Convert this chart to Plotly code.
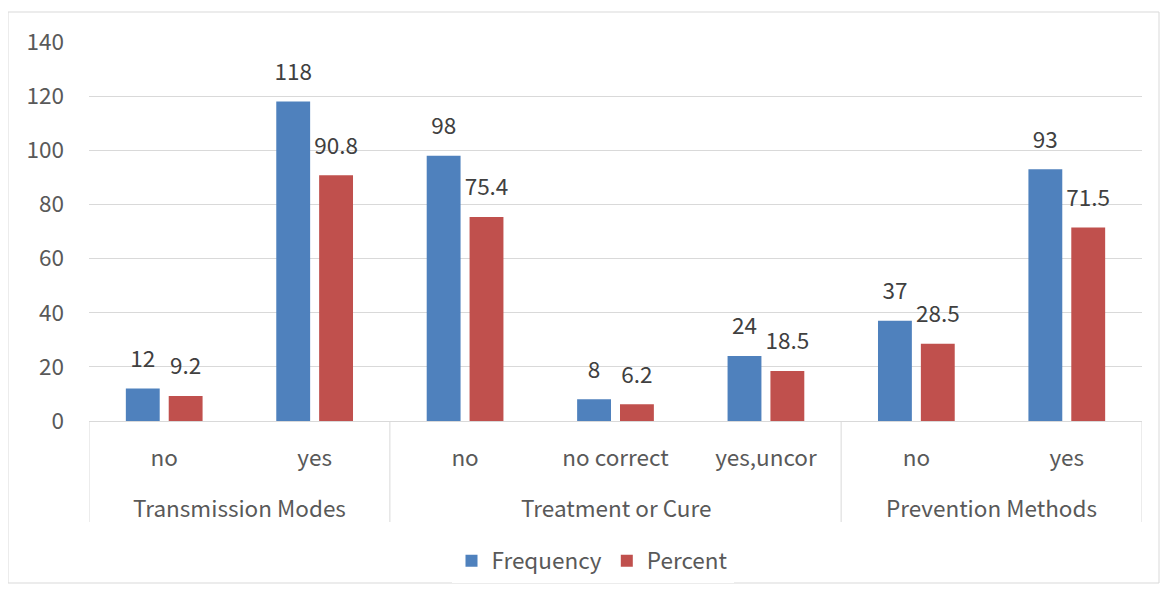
import plotly.graph_objects as go

groups = ["Transmission Modes", "Transmission Modes",
          "Treatment or Cure", "Treatment or Cure", "Treatment or Cure",
          "Prevention Methods", "Prevention Methods"]
answers = ["no", "yes", "no", "no correct", "yes,uncor", "no", "yes"]
frequency = [12, 118, 98, 8, 24, 37, 93]
percent = [9.2, 90.8, 75.4, 6.2, 18.5, 28.5, 71.5]
y_ticks = [0, 20, 40, 60, 80, 100, 120, 140]

FONT = "Noto Sans CJK KR, Malgun Gothic, sans-serif"
GREY = "#595959"
LINE = "#d9d9d9"
FS = 22.5
GAP = 0.43
# the page body has an 8px margin, so the figure is laid out 8px in
OFF = 8
W, H = 1152, 576
L, T = 89 - OFF, 42 - OFF
R = OFF + W - 1142
B = OFF + H - 421
pw, ph = W - L - R, H - T - B

# unique category keys, shown as the answer text
keys = [g + " | " + a for g, a in zip(groups, answers)]

series = [("Frequency", frequency, "#4f81bd"), ("Percent", percent, "#c0504d")]

fig = go.Figure()
for name, vals, col in series:
    fig.add_trace(go.Bar(
        x=keys, y=vals, name=name,
        marker=dict(color=col, line=dict(width=0)),
    ))
# value labels: invisible markers in grouped scatter mode so the text sits
# above each bar with an Excel-like gap
for name, vals, col in series:
    fig.add_trace(go.Scatter(
        x=keys, y=vals, mode="markers+text", text=vals,
        textposition="top center", showlegend=False, hoverinfo="skip",
        marker=dict(size=24, opacity=0), cliponaxis=False,
        textfont=dict(family=FONT, size=FS, color="#404040"),
    ))

# outer category row: group names and dividers
def px_below(px):
    return -(px - (T + OFF + ph)) / ph

starts = [i for i, g in enumerate(groups) if i == 0 or groups[i - 1] != g]
bounds = starts + [len(groups)]
for a, b in zip(bounds[:-1], bounds[1:]):
    fig.add_annotation(x=(a + b - 1) / 2, xref="x", y=px_below(507), yref="paper",
                       text=groups[a], showarrow=False, yanchor="middle",
                       font=dict(family=FONT, size=FS, color=GREY))
for b in bounds:
    fig.add_shape(type="line", xref="x", yref="paper", x0=b - 0.5, x1=b - 0.5,
                  y0=0, y1=px_below(522), line=dict(color=LINE, width=1))

# chart-area border
fig.add_shape(type="rect", xref="paper", yref="paper",
              x0=-L / pw, x1=(W - 1 - L) / pw,
              y0=-(H - 1 - T - ph) / ph, y1=1 + (T - 4) / ph,
              line=dict(color=LINE, width=1), layer="below")

fig.update_layout(
    width=W, height=H,
    margin=dict(l=L, r=R, t=T, b=B, autoexpand=False),
    paper_bgcolor="white", plot_bgcolor="white",
    font=dict(family=FONT, size=FS, color=GREY),
    barmode="group", bargap=GAP, bargroupgap=0.21,
    scattermode="group", scattergap=GAP,
    legend=dict(orientation="h", x=0.5 - 23 / pw, xanchor="center",
                y=px_below(561), yanchor="middle",
                font=dict(family=FONT, size=FS, color=GREY),
                traceorder="normal"),
)
fig.update_xaxes(
    type="category", showline=True, linecolor=LINE, linewidth=1,
    showgrid=False, ticks="", tickvals=keys, ticktext=answers,
    tickfont=dict(family=FONT, size=FS, color=GREY), ticklabelstandoff=17,
    range=[-0.5, len(keys) - 0.5],
)
fig.update_yaxes(
    range=[0, 140], tickvals=y_ticks, showgrid=True, gridcolor=LINE,
    gridwidth=1, zeroline=False, showline=False, ticks="",
    tickfont=dict(family=FONT, size=FS, color=GREY), ticklabelstandoff=24,
)

fig.write_html("out.html")
